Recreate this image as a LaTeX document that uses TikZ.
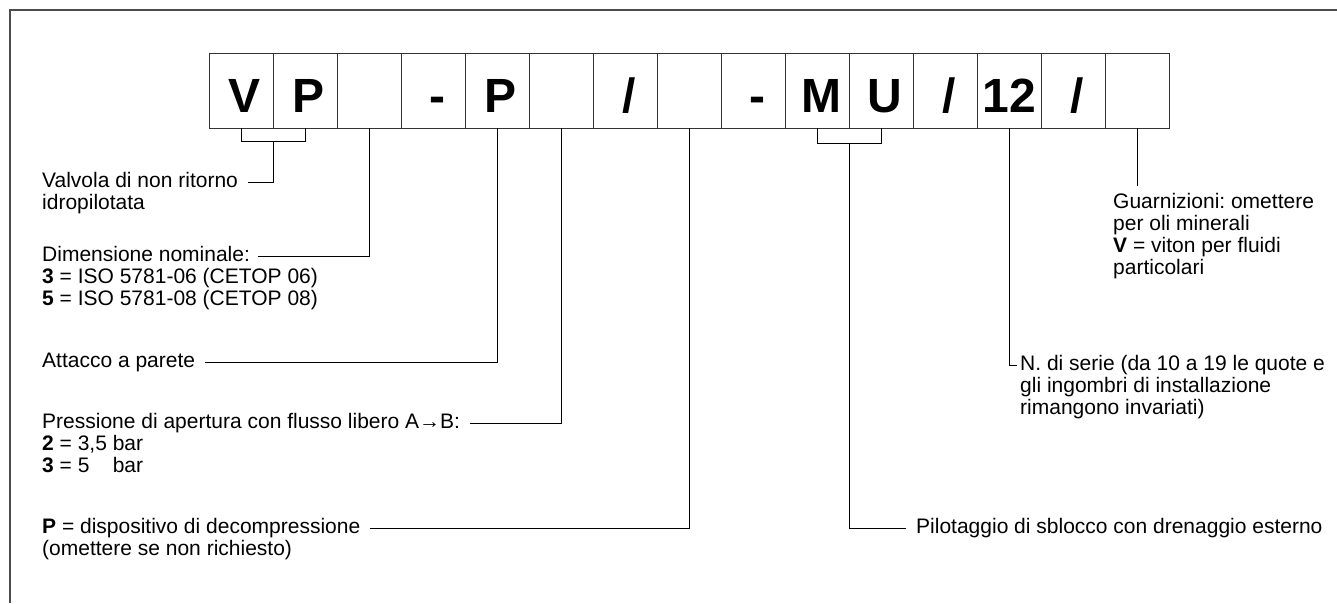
\documentclass[tikz,border=0pt]{standalone}
\usepackage{fontspec}
\setmainfont{Liberation Sans}
\usetikzlibrary{positioning,calc}

\newcommand{\boxch}[1]{\hspace*{8pt}#1}
\frenchspacing

\begin{document}
\begin{tikzpicture}[
    x=1pt, y=-1pt,
    font=\fontsize{21}{22}\selectfont,
    frame/.style={draw=black!70, line width=1.8pt},
    cell/.style={draw=black!80, line width=1pt, minimum width=64pt, minimum height=75pt,
                 inner sep=0pt, outer sep=0pt, text height=44pt, text depth=0pt,
                 font=\fontsize{48}{48}\selectfont\bfseries},
    head/.style={anchor=west, inner sep=0pt, text height=15pt, text depth=5pt},
    note/.style={anchor=north west, inner sep=0pt, align=left},
    body/.style={note, yshift=-2pt},
    lead/.style={draw=black, line width=1pt},
  ]
  \useasboundingbox (0,0) rectangle (1337,603);
  \draw[frame] (10,603) -- (10,10) -- (1337,10);

  % code boxes
  \node[cell] (c0) at (241,90.5) {\boxch{V}};
  \node[cell, right=0pt of c0] (c1) {\boxch{P}};
  \node[cell, right=0pt of c1] (c2) {};
  \node[cell, right=0pt of c2] (c3) {\boxch{-}};
  \node[cell, right=0pt of c3] (c4) {\boxch{P}};
  \node[cell, right=0pt of c4] (c5) {};
  \node[cell, right=0pt of c5] (c6) {\boxch{/}};
  \node[cell, right=0pt of c6] (c7) {};
  \node[cell, right=0pt of c7] (c8) {\boxch{-}};
  \node[cell, right=0pt of c8] (c9) {\boxch{M}};
  \node[cell, right=0pt of c9] (c10) {\boxch{U}};
  \node[cell, right=0pt of c10] (c11) {\boxch{/}};
  \node[cell, right=0pt of c11] (c12) {12};
  \node[cell, right=0pt of c12] (c13) {\boxch{/}};
  \node[cell, right=0pt of c13] (c14) {};

  % left-hand labels
  \node[head] (val) at (42,182) {Valvola di non ritorno};
  \node[body] (valb) at (val.south west) {idropilotata};
  \node[head] (dim) at (42,256) {Dimensione nominale:};
  \node[body] (dimb) at (dim.south west)
    {\textbf{3} = ISO 5781-06 (CETOP 06)\\\textbf{5} = ISO 5781-08 (CETOP 08)};
  \node[head] (att) at (42,362) {Attacco a parete};
  \node[head] (pre) at (42,423) {Pressione di apertura con flusso libero A→B:};
  \node[body] (preb) at (pre.south west)
    {\textbf{2} = 3,5 bar\\\textbf{3} = 5\phantom{,5} bar};
  \node[head] (dis) at (42,528) {\textbf{P} = dispositivo di decompressione};
  \node[body] (disb) at (dis.south west) {(omettere se non richiesto)};

  % right-hand labels
  \node[note] (gua) at (1113,193)
    {Guarnizioni: omettere\\per oli minerali\\\textbf{V} = viton per fluidi\\particolari};
  \node[head] (ser) at (1020,365) {N. di serie (da 10 a 19 le quote e};
  \node[body] (serb) at (ser.south west)
    {gli ingombri di installazione\\rimangono invariati)};
  \node[head] (pil) at (916,528) {Pilotaggio di sblocco con drenaggio esterno};

  % leaders
  \draw[lead] (c0.south) -- ++(0,13.5) -| (c1.south);
  \coordinate (vp) at ($(c0.south)!0.5!(c1.south)+(0,13.5)$);
  \draw[lead] (vp) |- ($(val.east)+(10,0)$);
  \draw[lead] (c2.south) |- ($(dim.east)+(8,0)$);
  \draw[lead] (c4.south) |- ($(att.east)+(10,0)$);
  \draw[lead] (c5.south) |- ($(pre.east)+(10,0)$);
  \draw[lead] (c7.south) |- ($(dis.east)+(10,0)$);
  \draw[lead] (c9.south) -- ++(0,15) -| (c10.south);
  \coordinate (mu) at ($(c9.south)!0.5!(c10.south)+(0,15)$);
  \draw[lead] (mu) |- ($(pil.west)+(-10,0)$);
  \draw[lead] (c12.south) |- ($(ser.west)+(-3,0)$);
  \draw[lead] (c14.south) -- ($(c14.south |- gua.north)+(0,-7)$);
\end{tikzpicture}
\end{document}
